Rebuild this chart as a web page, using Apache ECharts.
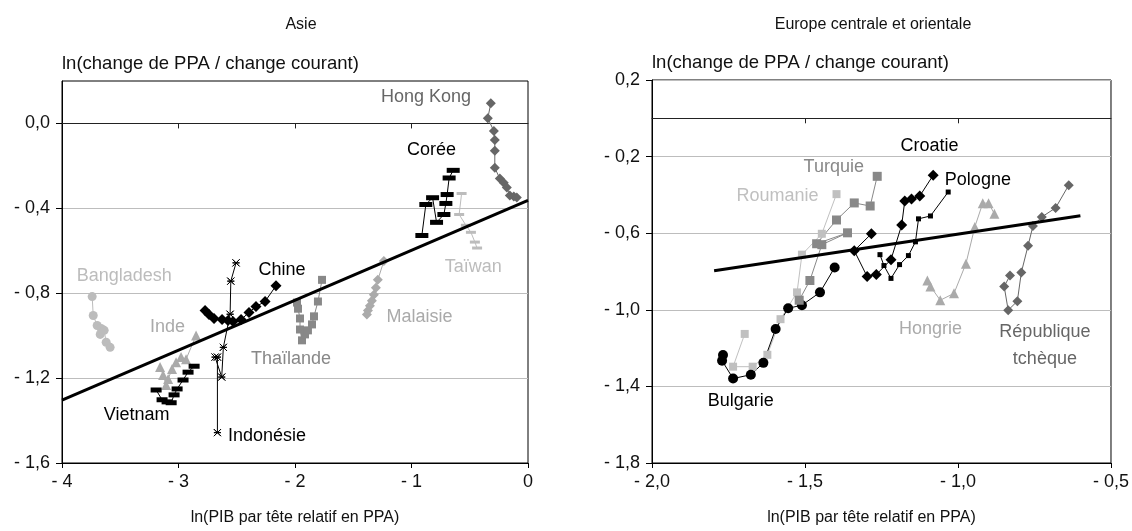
<!DOCTYPE html>
<html><head><meta charset="utf-8">
<script src="https://cdn.jsdelivr.net/npm/echarts@6/dist/echarts.min.js"></script>
<style>html,body{margin:0;padding:0;background:#fff}#c{width:1132px;height:531px}</style>
</head><body><div id="c"></div>
<script>
// ---------- texts ----------
const titleAsie = 'Asie';
const titleEurope = 'Europe centrale et orientale';
const yAxisName = 'ln(change de PPA / change courant)';
const xAxisName = 'ln(PIB par tête relatif en PPA)';

// ---------- tick labels ----------
const asieXTicks = [-4, -3, -2, -1, 0];
const asieYTicks = [-1.6, -1.2, -0.8, -0.4, 0.0];
const europeXTicks = [-2.0, -1.5, -1.0, -0.5];
const europeYTicks = [-1.8, -1.4, -1.0, -0.6, -0.2, 0.2];

// ---------- Asie : [ln PIB relatif, ln(PPA/change)] ----------
const hongKong = [[-0.319,0.095],[-0.345,0.025],[-0.293,-0.036],[-0.285,-0.078],[-0.285,-0.129],[-0.285,-0.209],[-0.242,-0.260],[-0.208,-0.279],[-0.182,-0.302],[-0.156,-0.340],[-0.122,-0.344],[-0.096,-0.349]];
const coree = [[-0.911,-0.528],[-0.877,-0.382],[-0.819,-0.350],[-0.785,-0.466],[-0.722,-0.429],[-0.705,-0.377],[-0.694,-0.335],[-0.677,-0.257],[-0.642,-0.221]];
const taiwan = [[-0.570,-0.330],[-0.591,-0.429],[-0.533,-0.480],[-0.490,-0.513],[-0.456,-0.559],[-0.437,-0.587]];
const malaisie = [[-1.237,-0.648],[-1.289,-0.737],[-1.306,-0.774],[-1.323,-0.807],[-1.340,-0.835],[-1.357,-0.859],[-1.374,-0.882],[-1.383,-0.900]];
const thailande = [[-1.983,-0.844],[-1.974,-0.873],[-1.957,-0.919],[-1.957,-0.971],[-1.940,-1.022],[-1.914,-0.994],[-1.889,-0.975],[-1.854,-0.947],[-1.837,-0.909],[-1.803,-0.839],[-1.768,-0.737]];
const chine = [[-2.772,-0.882],[-2.738,-0.900],[-2.695,-0.919],[-2.626,-0.924],[-2.575,-0.928],[-2.532,-0.933],[-2.463,-0.924],[-2.395,-0.891],[-2.335,-0.863],[-2.257,-0.839],[-2.163,-0.765]];
const indonesie = [[-2.506,-0.657],[-2.551,-0.743],[-2.557,-0.899],[-2.615,-1.055],[-2.629,-1.195],[-2.686,-1.101],[-2.666,-1.101],[-2.666,-1.457]];
const vietnam = [[-3.192,-1.256],[-3.141,-1.302],[-3.098,-1.312],[-3.063,-1.316],[-3.038,-1.279],[-3.012,-1.251],[-2.961,-1.209],[-2.918,-1.172],[-2.866,-1.144]];
const inde = [[-3.158,-1.148],[-3.132,-1.185],[-3.106,-1.232],[-3.089,-1.204],[-3.055,-1.157],[-3.021,-1.125],[-2.978,-1.101],[-2.935,-1.111],[-2.849,-0.999]];
const bangladesh = [[-3.741,-0.816],[-3.732,-0.905],[-3.698,-0.952],[-3.664,-0.966],[-3.672,-0.994],[-3.638,-0.975],[-3.621,-1.031],[-3.587,-1.055]];
const fitAsie = [[-4,-1.304],[0,-0.363]];

// ---------- Europe centrale et orientale ----------
const bulgarie = [[-1.768,-1.236],[-1.771,-1.266],[-1.735,-1.359],[-1.677,-1.339],[-1.636,-1.277],[-1.596,-1.100],[-1.555,-0.992],[-1.510,-0.976],[-1.451,-0.909],[-1.403,-0.779]];
const roumanie = [[-1.697,-1.126],[-1.735,-1.297],[-1.671,-1.297],[-1.623,-1.235],[-1.580,-1.049],[-1.526,-0.909],[-1.510,-0.712],[-1.445,-0.603],[-1.397,-0.396]];
const turquie = [[-1.519,-0.950],[-1.484,-0.847],[-1.445,-0.660],[-1.361,-0.598],[-1.462,-0.655],[-1.397,-0.531],[-1.339,-0.442],[-1.287,-0.458],[-1.264,-0.303]];
const croatie = [[-1.283,-0.603],[-1.339,-0.691],[-1.297,-0.826],[-1.267,-0.816],[-1.219,-0.738],[-1.184,-0.557],[-1.174,-0.432],[-1.152,-0.422],[-1.125,-0.406],[-1.081,-0.297]];
const pologne = [[-1.255,-0.712],[-1.242,-0.769],[-1.219,-0.836],[-1.191,-0.764],[-1.162,-0.717],[-1.139,-0.645],[-1.129,-0.525],[-1.090,-0.510],[-1.032,-0.385]];
const hongrie = [[-1.100,-0.847],[-1.090,-0.878],[-1.058,-0.950],[-1.013,-0.914],[-0.974,-0.759],[-0.945,-0.567],[-0.919,-0.443],[-0.900,-0.443],[-0.881,-0.499]];
const tcheque = [[-0.638,-0.349],[-0.681,-0.468],[-0.726,-0.515],[-0.755,-0.562],[-0.771,-0.665],[-0.793,-0.805],[-0.806,-0.955],[-0.836,-1.002],[-0.849,-0.878],[-0.830,-0.821]];
const fitEurope = [[-1.797,-0.796],[-0.600,-0.509]];

// ---------- rendering ----------
const FONT = '"Liberation Sans", Arial, Helvetica, sans-serif';
const FS = 18;      // tick labels, country labels
const FS_T = 16;    // titles, x names
const FS_Y = 18.5;  // y names
function fmt(dec) {
  return function (v) {
    const s = Math.abs(v).toFixed(dec).replace('.', ',');
    return v < -1e-9 ? '- ' + s : s;
  };
}
function bottomX(grid, min, max, ticks, dec, shift) {
  return {
    gridIndex: grid, type: 'value', min, max, position: 'bottom',
    axisLine: { onZero: false, lineStyle: { color: '#000', width: 1 } },
    axisTick: { show: true, length: 5, customValues: ticks, lineStyle: { color: '#000' } },
    axisLabel: { customValues: ticks, formatter: fmt(dec), fontSize: FS, color: '#111', margin: 10, fontFamily: FONT },
    splitLine: { show: false },
    name: xAxisName, nameLocation: 'middle', nameGap: 47,
    nameTextStyle: { fontSize: FS_T, color: '#111', fontFamily: FONT, padding: [0, shift, 0, 0] }
  };
}
function zeroX(grid, min, max, ticks) {
  return {
    gridIndex: grid, type: 'value', min, max, position: 'top',
    axisLine: { onZero: true, lineStyle: { color: '#222', width: 1 } },
    axisTick: { show: true, inside: true, length: 5, customValues: ticks.slice(1, -1), lineStyle: { color: '#222' } },
    axisLabel: { show: false }, splitLine: { show: false }
  };
}
function leftY(grid, min, max, ticks) {
  return {
    gridIndex: grid, type: 'value', min, max,
    axisLine: { onZero: false, lineStyle: { color: '#000', width: 1 } },
    axisTick: { show: true, length: 6, customValues: ticks, lineStyle: { color: '#000' } },
    axisLabel: { customValues: ticks, formatter: fmt(1), fontSize: FS, color: '#111', margin: 12, fontFamily: FONT },
    splitLine: { show: true, lineStyle: { color: '#bdbdbd', width: 1 } },
    name: yAxisName, nameLocation: 'end', nameGap: 8,
    nameTextStyle: { align: 'left', verticalAlign: 'bottom', fontSize: FS_Y, color: '#111', fontFamily: FONT }
  };
}
function ser(data, grid, o) {
  const s = {
    type: 'line', data, xAxisIndex: grid * 2, yAxisIndex: grid,
    symbol: o.symbol, symbolSize: o.size, showSymbol: true,
    lineStyle: { color: o.line || o.color, width: o.lw || 1 },
    itemStyle: o.item || { color: o.color },
    z: o.z || 3, animation: false, silent: true
  };
  if (o.label) {
    s.markPoint = {
      symbol: 'rect', symbolSize: 0, silent: true, animation: false,
      data: [{ coord: o.label.at, value: 0 }],
      label: { show: true, position: 'inside', formatter: o.label.text, color: o.label.color || o.color,
        fontSize: FS, fontFamily: FONT, lineHeight: 27 }
    };
  }
  return s;
}
const LG = '#bcbcbc', LG2 = '#aaaaaa', MG = '#888888', DG = '#666666';
const xMark = 'path://M0,0L10,10L10,10ZM10,0L0,10L0,10ZM0,5L10,5L10,5Z';

const option = {
  animation: false,
  backgroundColor: '#fff',
  title: [
    { text: titleAsie, left: 296, top: 12, textAlign: 'center', textStyle: { fontSize: FS_T, fontWeight: 'normal', color: '#111', fontFamily: FONT } },
    { text: titleEurope, left: 868, top: 12, textAlign: 'center', textStyle: { fontSize: FS_T, fontWeight: 'normal', color: '#111', fontFamily: FONT } }
  ],
  grid: [
    { left: 62, right: 604, top: 81, bottom: 64, show: true, borderColor: '#000', borderWidth: 1, backgroundColor: 'transparent' },
    { left: 652, right: 15, top: 80, bottom: 65, show: true, borderColor: '#000', borderWidth: 1, backgroundColor: 'transparent' }
  ],
  xAxis: [
    bottomX(0, -4, 0, asieXTicks, 0, 0),
    zeroX(0, -4, 0, asieXTicks),
    bottomX(1, -2, -0.5, europeXTicks, 1, 20),
    zeroX(1, -2, -0.5, europeXTicks)
  ],
  yAxis: [
    leftY(0, -1.6, 0.2, asieYTicks),
    leftY(1, -1.8, 0.2, europeYTicks)
  ],
  series: [
    ser(hongKong, 0, { symbol: 'diamond', size: 10, color: DG, label: { text: 'Hong Kong', at: [-0.876, 0.123] } }),
    ser(coree, 0, { symbol: 'rect', size: [13, 5], color: '#000', label: { text: 'Corée', at: [-0.829, -0.125] } }),
    ser(taiwan, 0, { symbol: 'rect', size: [10, 3], color: LG, label: { text: 'Taïwan', at: [-0.469, -0.676] } }),
    ser(malaisie, 0, { symbol: 'diamond', size: 10, color: LG2, label: { text: 'Malaisie', at: [-0.932, -0.910] } }),
    ser(thailande, 0, { symbol: 'rect', size: 8, color: MG, label: { text: 'Thaïlande', at: [-2.034, -1.111] } }),
    ser(chine, 0, { symbol: 'diamond', size: 11, color: '#000', label: { text: 'Chine', at: [-2.111, -0.690] } }),
    ser(indonesie, 0, { symbol: xMark, size: 7, color: '#000', item: { color: '#000', borderColor: '#000', borderWidth: 1 }, label: { text: 'Indonésie', at: [-2.240, -1.475] } }),
    ser(inde, 0, { symbol: 'triangle', size: 10, color: LG2, label: { text: 'Inde', at: [-3.094, -0.961] } }),
    ser(vietnam, 0, { symbol: 'rect', size: [11, 5], color: '#000', label: { text: 'Vietnam', at: [-3.359, -1.372] } }),
    ser(bangladesh, 0, { symbol: 'circle', size: 9, color: LG, label: { text: 'Bangladesh', at: [-3.466, -0.718] } }),
    ser(fitAsie, 0, { symbol: 'none', size: 0, color: '#000', lw: 3, z: 4 }),

    ser(roumanie, 1, { symbol: 'rect', size: 8, color: '#c0c0c0', label: { text: 'Roumanie', at: [-1.590, -0.406] } }),
    ser(bulgarie, 1, { symbol: 'circle', size: 10, color: '#000', label: { text: 'Bulgarie', at: [-1.710, -1.478] } }),
    ser(turquie, 1, { symbol: 'rect', size: 9, color: MG, label: { text: 'Turquie', at: [-1.406, -0.256] } }),
    ser(croatie, 1, { symbol: 'diamond', size: 11, color: '#000', label: { text: 'Croatie', at: [-1.093, -0.147] } }),
    ser(pologne, 1, { symbol: 'rect', size: 5, color: '#000', label: { text: 'Pologne', at: [-0.935, -0.323] } }),
    ser(hongrie, 1, { symbol: 'triangle', size: 10, color: LG2, label: { text: 'Hongrie', at: [-1.090, -1.100] } }),
    ser(tcheque, 1, { symbol: 'diamond', size: 10, color: DG, label: { text: 'République\ntchèque', at: [-0.716, -1.188] } }),
    ser(fitEurope, 1, { symbol: 'none', size: 0, color: '#000', lw: 3, z: 4 })
  ]
};
const chart = echarts.init(document.getElementById('c'), null, { renderer: 'canvas' });
chart.setOption(option);
</script></body></html>
